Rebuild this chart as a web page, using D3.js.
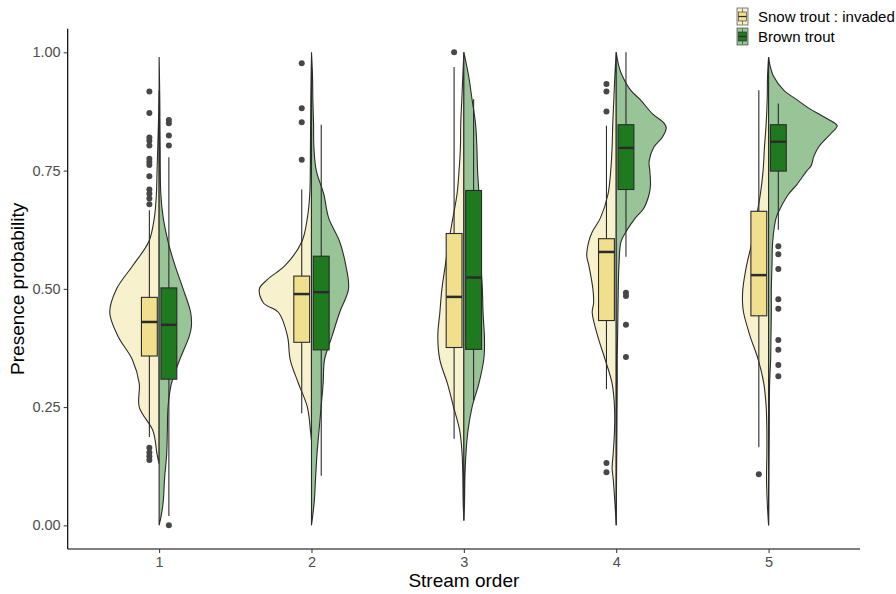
<!DOCTYPE html>
<html>
<head>
<meta charset="utf-8">
<script src="https://cdnjs.cloudflare.com/ajax/libs/d3/7.8.5/d3.min.js"></script>
<style>
  body { margin: 0; background: #fff; }
  text { font-family: "Liberation Sans", Arial, sans-serif; }
</style>
</head>
<body>
<svg id="chart" width="896" height="594"></svg>
<script>
/*jshint esversion: 6 */
const streamOrders = ['1', '2', '3', '4', '5'];
const species = ['Snow trout : invaded', 'Brown trout'];
const yTicks = [0, 0.25, 0.5, 0.75, 1];
const yTickLabels = ['0.00', '0.25', '0.50', '0.75', '1.00'];

// box stats per stream order: [lower whisker, q1, median, q3, upper whisker]
const snowBox = [
  [0.187, 0.358, 0.430, 0.482, 0.666],
  [0.237, 0.387, 0.489, 0.527, 0.710],
  [0.183, 0.376, 0.483, 0.617, 0.969],
  [0.288, 0.433, 0.578, 0.606, 0.845],
  [0.165, 0.443, 0.529, 0.664, 0.920]
];
const brownBox = [
  [0.020, 0.309, 0.424, 0.502, 0.778],
  [0.105, 0.371, 0.493, 0.569, 0.847],
  [0.264, 0.372, 0.524, 0.708, 0.901],
  [0.568, 0.710, 0.798, 0.847, 1.000],
  [0.625, 0.749, 0.811, 0.847, 0.892]
];

const snowOutliers = [
  [0.917, 0.872, 0.820, 0.813, 0.803, 0.775, 0.768, 0.762, 0.738, 0.710, 0.701, 0.691, 0.679, 0.164, 0.154, 0.146, 0.138],
  [0.977, 0.882, 0.852, 0.773],
  [1.0],
  [0.933, 0.917, 0.875, 0.132, 0.112],
  [0.108]
];
const brownOutliers = [
  [0.857, 0.850, 0.824, 0.803, 0.0],
  [],
  [],
  [0.492, 0.485, 0.424, 0.356],
  [0.590, 0.573, 0.542, 0.478, 0.458, 0.392, 0.371, 0.339, 0.315]
];

// half-violin profiles: [presence probability, relative density]
const snowViolin = [
  [[0.92,0],[0.85,0.01],[0.75,0.03],[0.70,0.04],[0.65,0.07],[0.60,0.15],[0.55,0.38],[0.50,0.62],[0.45,0.72],[0.40,0.60],[0.35,0.39],[0.30,0.29],[0.25,0.29],[0.20,0.09],[0.15,0.03],[0.13,0]],
  [[0.99,0],[0.90,0.01],[0.80,0.015],[0.70,0.025],[0.65,0.06],[0.60,0.14],[0.55,0.38],[0.52,0.64],[0.50,0.76],[0.47,0.70],[0.45,0.48],[0.40,0.35],[0.35,0.31],[0.30,0.19],[0.25,0.06],[0.20,0.015],[0.18,0]],
  [[1.0,0],[0.95,0.015],[0.90,0.03],[0.85,0.045],[0.80,0.05],[0.75,0.07],[0.70,0.10],[0.65,0.16],[0.60,0.22],[0.55,0.27],[0.50,0.32],[0.45,0.35],[0.40,0.38],[0.35,0.35],[0.30,0.24],[0.25,0.15],[0.20,0.06],[0.15,0.025],[0.10,0.015],[0.05,0.01],[0.01,0]],
  [[1.0,0],[0.95,0.02],[0.90,0.035],[0.85,0.05],[0.80,0.06],[0.75,0.08],[0.70,0.12],[0.65,0.23],[0.62,0.35],[0.60,0.40],[0.57,0.43],[0.55,0.40],[0.50,0.34],[0.47,0.33],[0.45,0.35],[0.40,0.27],[0.35,0.16],[0.30,0.06],[0.25,0.025],[0.20,0.025],[0.15,0.045],[0.12,0.06],[0.10,0.045],[0.05,0.02],[0.0,0]],
  [[0.99,0],[0.95,0.015],[0.90,0.02],[0.85,0.035],[0.80,0.06],[0.75,0.08],[0.70,0.12],[0.65,0.18],[0.60,0.24],[0.55,0.32],[0.50,0.375],[0.47,0.38],[0.45,0.365],[0.40,0.27],[0.35,0.15],[0.30,0.07],[0.25,0.035],[0.20,0.025],[0.15,0.025],[0.10,0.03],[0.05,0.02],[0.0,0]]
];
const brownViolin = [
  [[0.99,0],[0.90,0.01],[0.80,0.015],[0.70,0.025],[0.65,0.06],[0.60,0.13],[0.55,0.23],[0.50,0.35],[0.45,0.46],[0.42,0.47],[0.40,0.44],[0.35,0.30],[0.30,0.18],[0.25,0.13],[0.20,0.12],[0.15,0.11],[0.10,0.08],[0.05,0.06],[0.02,0.03],[0.0,0]],
  [[1.0,0],[0.95,0.015],[0.90,0.02],[0.85,0.03],[0.80,0.035],[0.75,0.07],[0.70,0.18],[0.65,0.25],[0.60,0.41],[0.55,0.50],[0.50,0.54],[0.45,0.41],[0.40,0.30],[0.35,0.19],[0.30,0.17],[0.25,0.14],[0.20,0.11],[0.15,0.08],[0.10,0.06],[0.05,0.04],[0.0,0]],
  [[1.0,0],[0.95,0.07],[0.90,0.12],[0.85,0.17],[0.80,0.19],[0.75,0.20],[0.70,0.22],[0.65,0.23],[0.60,0.24],[0.55,0.25],[0.50,0.27],[0.45,0.28],[0.40,0.30],[0.37,0.30],[0.35,0.29],[0.30,0.22],[0.25,0.12],[0.20,0.06],[0.15,0.03],[0.10,0.015],[0.05,0.01],[0.01,0]],
  [[1.0,0],[0.97,0.04],[0.95,0.09],[0.92,0.21],[0.90,0.35],[0.87,0.53],[0.85,0.70],[0.84,0.73],[0.82,0.67],[0.80,0.55],[0.77,0.48],[0.75,0.49],[0.72,0.50],[0.70,0.48],[0.67,0.40],[0.65,0.28],[0.62,0.14],[0.60,0.07],[0.55,0.04],[0.50,0.03],[0.45,0.025],[0.40,0.02],[0.35,0.015],[0.30,0.015],[0.20,0.01],[0.0,0]],
  [[0.99,0],[0.97,0.025],[0.95,0.07],[0.92,0.22],[0.90,0.41],[0.88,0.61],[0.86,0.85],[0.845,1.0],[0.83,0.92],[0.80,0.73],[0.78,0.66],[0.76,0.62],[0.75,0.56],[0.72,0.41],[0.70,0.29],[0.67,0.17],[0.65,0.11],[0.60,0.06],[0.55,0.05],[0.50,0.04],[0.45,0.04],[0.40,0.035],[0.35,0.03],[0.30,0.015],[0.20,0.01],[0.0,0]]
];

const violinFill = ['#F8F1CE', '#98C498'];
const boxFill = ['#F0E08E', '#1F7A1F'];
const ink = '#2b2b2b';

const svg = d3.select('#chart');
const plot = {left: 67.7, right: 860, top: 28.7, bottom: 549};

let x = d3.scalePoint().domain(streamOrders).range([plot.left, plot.right]).padding(0.6);
let y = d3.scaleLinear().domain([-0.05, 1.05]).range([plot.bottom, plot.top]);
const step = x.step();
let dens = d3.scaleLinear().domain([0, 1]).range([0, 0.45 * step]);
const boxOffset = 0.064 * step, boxHalf = 0.052 * step;

let g = svg.append('g');

// half violins
function drawViolins(profiles, side, fill) {
  streamOrders.forEach((s, i) => {
    const cx = x(s);
    const area = d3.area()
      .curve(d3.curveCatmullRom.alpha(0.5))
      .y(d => y(d[0]))
      .x0(cx)
      .x1(d => cx + side * dens(d[1]));
    g.append('path')
      .datum(profiles[i])
      .attr('d', area)
      .attr('fill', fill)
      .attr('stroke', ink)
      .attr('stroke-width', 1.1);
  });
}
drawViolins(snowViolin, -1, violinFill[0]);
drawViolins(brownViolin, 1, violinFill[1]);

// boxplots
function drawBoxes(stats, outliers, side, fill) {
  streamOrders.forEach((s, i) => {
    const bx = x(s) + side * boxOffset;
    const b = stats[i];
    g.append('line')
      .attr('x1', bx).attr('x2', bx)
      .attr('y1', y(b[0])).attr('y2', y(b[1]))
      .attr('stroke', ink).attr('stroke-width', 1.1);
    g.append('line')
      .attr('x1', bx).attr('x2', bx)
      .attr('y1', y(b[3])).attr('y2', y(b[4]))
      .attr('stroke', ink).attr('stroke-width', 1.1);
    g.append('rect')
      .attr('x', bx - boxHalf)
      .attr('y', y(b[3]))
      .attr('width', 2 * boxHalf)
      .attr('height', y(b[1]) - y(b[3]))
      .attr('fill', fill)
      .attr('stroke', ink)
      .attr('stroke-width', 1.1);
    g.append('line')
      .attr('x1', bx - boxHalf).attr('x2', bx + boxHalf)
      .attr('y1', y(b[2])).attr('y2', y(b[2]))
      .attr('stroke', ink).attr('stroke-width', 2.5);
    g.selectAll(null)
      .data(outliers[i])
      .enter().append('circle')
      .attr('cx', bx)
      .attr('cy', d => y(d))
      .attr('r', 3)
      .attr('fill', '#474747');
  });
}
drawBoxes(snowBox, snowOutliers, -1, boxFill[0]);
drawBoxes(brownBox, brownOutliers, 1, boxFill[1]);

// y axis
let yAxis = g.append('g')
  .attr('transform', 'translate(' + plot.left + ',0)')
  .call(d3.axisLeft(y).tickValues(yTicks).tickFormat((d, i) => yTickLabels[i]).tickSize(4).tickPadding(3));
yAxis.select('.domain').attr('stroke', '#000').attr('stroke-width', 1.2)
  .attr('d', 'M0,' + plot.top + 'V' + plot.bottom);
yAxis.selectAll('.tick line').attr('stroke', '#333');
yAxis.selectAll('.tick text').attr('fill', '#4D4D4D').style('font-size', '14.5px');

// x axis
let xAxis = g.append('g')
  .attr('transform', 'translate(0,' + plot.bottom + ')')
  .call(d3.axisBottom(x).tickSize(4).tickPadding(4));
xAxis.select('.domain').attr('stroke', '#000').attr('stroke-width', 1.2)
  .attr('d', 'M' + plot.left + ',0H' + plot.right);
xAxis.selectAll('.tick line').attr('stroke', '#333');
xAxis.selectAll('.tick text').attr('fill', '#4D4D4D').style('font-size', '14.5px');

// axis titles
svg.append('text')
  .attr('x', (plot.left + plot.right) / 2)
  .attr('y', 587)
  .attr('text-anchor', 'middle')
  .style('font-size', '19px')
  .text('Stream order');
svg.append('text')
  .attr('transform', 'translate(24,' + ((plot.top + plot.bottom) / 2) + ') rotate(-90)')
  .attr('text-anchor', 'middle')
  .style('font-size', '19px')
  .text('Presence probability');

// legend
let legend = svg.append('g').attr('transform', 'translate(737,8)');
species.forEach((name, i) => {
  const key = legend.append('g').attr('transform', 'translate(0,' + (i * 20) + ')');
  key.append('rect')
    .attr('width', 11).attr('height', 17)
    .attr('fill', violinFill[i]).attr('stroke', ink).attr('stroke-width', 0.6);
  key.append('line')
    .attr('x1', 5.5).attr('x2', 5.5).attr('y1', 0.5).attr('y2', 16.5)
    .attr('stroke', ink).attr('stroke-width', 0.6);
  key.append('rect')
    .attr('x', 1.5).attr('y', 4).attr('width', 8).attr('height', 9)
    .attr('fill', boxFill[i]).attr('stroke', ink).attr('stroke-width', 0.6);
  key.append('line')
    .attr('x1', 1.5).attr('x2', 9.5).attr('y1', 8.5).attr('y2', 8.5)
    .attr('stroke', ink).attr('stroke-width', 1.2);
  key.append('text')
    .attr('x', 21).attr('y', 14)
    .style('font-size', '15px')
    .text(name);
});
</script>
</body>
</html>
